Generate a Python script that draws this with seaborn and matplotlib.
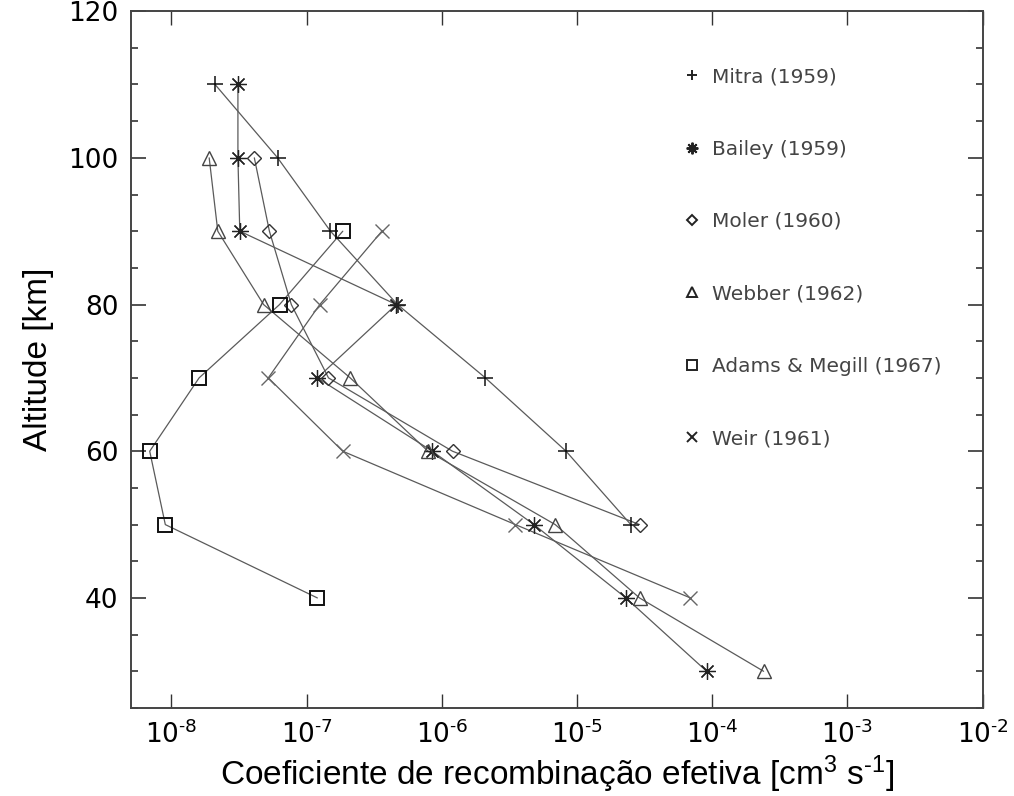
import math
import matplotlib
matplotlib.use("Agg")
import matplotlib.pyplot as plt
import matplotlib.ticker as mticker
from matplotlib.lines import Line2D
import seaborn as sns
import pandas as pd

# altitude [km] and effective recombination coefficient [cm^3 s^-1]
mitra_alt = [110, 100, 90, 80, 70, 60, 50]
mitra_coef = [2.1e-8, 6.1e-8, 1.5e-7, 4.7e-7, 2.1e-6, 8.3e-6, 2.5e-5]

bailey_alt = [110, 100, 90, 80, 70, 60, 50, 40, 30]
bailey_coef = [3.1e-8, 3.1e-8, 3.2e-8, 4.6e-7, 1.2e-7, 8.5e-7, 4.8e-6, 2.3e-5, 9.1e-5]

moler_alt = [100, 90, 80, 70, 60, 50]
moler_coef = [4.1e-8, 5.3e-8, 7.7e-8, 1.45e-7, 1.2e-6, 2.9e-5]

webber_alt = [100, 90, 80, 70, 60, 50, 40, 30]
webber_coef = [1.9e-8, 2.2e-8, 4.8e-8, 2.1e-7, 7.9e-7, 6.9e-6, 2.9e-5, 2.4e-4]

adams_alt = [90, 80, 70, 60, 50, 40]
adams_coef = [1.85e-7, 6.3e-8, 1.6e-8, 6.9e-9, 9.0e-9, 1.2e-7]

weir_alt = [90, 80, 70, 60, 50, 40]
weir_coef = [3.6e-7, 1.25e-7, 5.2e-8, 1.85e-7, 3.5e-6, 6.9e-5]

labels = ["Mitra (1959)", "Bailey (1959)", "Moler (1960)", "Webber (1962)",
          "Adams & Megill (1967)", "Weir (1961)"]
x_ticks = [1e-8, 1e-7, 1e-6, 1e-5, 1e-4, 1e-3, 1e-2]
y_ticks = [40, 60, 80, 100, 120]

sns.set_style("white")
plt.rcParams["font.family"] = ["DejaVu Sans"]
plt.rcParams["mathtext.fontset"] = "custom"
plt.rcParams["mathtext.rm"] = "Liberation Sans"
plt.rcParams["mathtext.it"] = "Liberation Sans:italic"

# marker style per series: (marker, size, filled?, colour, edge width)
styles = [
    ("+", 11, True, "#111111", 1.1),
    ((8, 2, 0), 12, True, "#222222", 0.9),
    ("D", 7, False, "#333333", 1.0),
    ("^", 10, False, "#444444", 1.0),
    ("s", 10, False, "#111111", 1.4),
    ("x", 10, True, "#666666", 1.0),
]
series = [(mitra_coef, mitra_alt), (bailey_coef, bailey_alt), (moler_coef, moler_alt),
          (webber_coef, webber_alt), (adams_coef, adams_alt), (weir_coef, weir_alt)]

fig = plt.figure(figsize=(10.14, 7.96), dpi=100)
ax = fig.add_axes([0.129, 0.1106, 0.84, 0.8754])

handles = []
for (coef, alt), (m, ms, filled, c, mew), lab in zip(series, styles, labels):
    df = pd.DataFrame({"coef": coef, "alt": alt})
    sns.lineplot(data=df, x="coef", y="alt", sort=False, estimator=None, ax=ax,
                 color="#5a5a5a", linewidth=0.9, zorder=2)
    ax.plot(df["coef"], df["alt"], linestyle="none", marker=m, markersize=ms,
            markerfacecolor=("none" if not filled else c), markeredgecolor=c,
            markeredgewidth=mew, zorder=3)
    handles.append(Line2D([], [], linestyle="none", marker=m, markersize=ms * 0.7,
                          markerfacecolor=("none" if not filled else "#222222"),
                          markeredgecolor="#222222", markeredgewidth=1.4))

ax.set_xscale("log")
ax.set_xlim(5e-9, 1e-2)
ax.set_ylim(25, 120)
ax.set_xticks(x_ticks)
ax.xaxis.set_minor_locator(mticker.NullLocator())
ax.xaxis.set_major_formatter(mticker.FuncFormatter(
    lambda v, p: r"$\mathregular{10^{\text{-}%d}}$" % abs(round(math.log10(v)))))
ax.set_yticks(y_ticks)
ax.yaxis.set_minor_locator(mticker.MultipleLocator(5))

ax.tick_params(axis="both", which="both", direction="in", top=True, right=True,
               bottom=True, left=True, color="#333333", labelcolor="black")
ax.tick_params(axis="x", which="major", length=10, width=1, labelsize=19, pad=9)
ax.tick_params(axis="y", which="major", length=11, width=1.2, labelsize=19, pad=9)
ax.tick_params(axis="y", which="minor", length=5, width=1.2)
for lab in ax.get_yticklabels():
    lab.set_fontfamily("DejaVu Sans")
for sp in ax.spines.values():
    sp.set_color("#444444")
    sp.set_linewidth(1.4)

ax.set_xlabel(r"Coeficiente de recombinação efetiva [cm$^{3}$ s$^{\text{-}1}$]",
              fontsize=24, family="Liberation Sans", labelpad=3, color="black")
ax.set_ylabel("Altitude [km]", fontsize=24, family="Liberation Sans", labelpad=10,
              color="black")

leg = ax.legend(handles, labels, loc="upper left", bbox_to_anchor=(0.626, 0.9455),
                frameon=False, fontsize=14.5, labelspacing=2.65, handlelength=1.0,
                handletextpad=0.5)
for t in leg.get_texts():
    t.set_color("#444444")

fig.savefig("out.png", dpi=100)
